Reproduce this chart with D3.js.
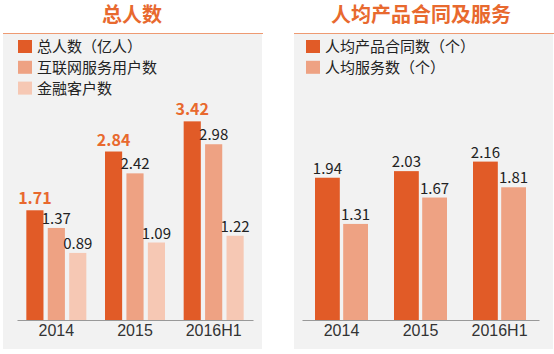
<!DOCTYPE html>
<html lang="zh">
<head>
<meta charset="UTF-8">
<title>总人数 / 人均产品合同及服务</title>
<script src="https://d3js.org/d3.v7.min.js"></script>
<style>
  body { margin: 0; background: #fff; font-family: "Noto Sans CJK SC", "Noto Sans", sans-serif; }
  .axis text { font-size: 16px; fill: #333; }
  .axis path { stroke: #999; }
</style>
</head>
<body>
<div id="chart"></div>
<script>
// data
const periods = ["2014", "2015", "2016H1"];

const leftTitle = "总人数";
const leftSeries = ["总人数（亿人）", "互联网服务用户数", "金融客户数"];
const totalUsers = [1.71, 2.84, 3.42];
const internetUsers = [1.37, 2.42, 2.98];
const financeUsers = [0.89, 1.09, 1.22];

const rightTitle = "人均产品合同及服务";
const rightSeries = ["人均产品合同数（个）", "人均服务数（个）"];
const contractsPerUser = [1.94, 2.03, 2.16];
const servicesPerUser = [1.31, 1.67, 1.81];

const colors = ["#E15B27", "#EEA283", "#F6C8B4"];
const accent = "#E8692E";

const W = 554, H = 354, base = 320;

const svg = d3.select("#chart").append("svg")
  .attr("width", W).attr("height", H);

function panel(opt) {
  const g = svg.append("g");

  // background + top rule
  g.append("rect")
    .attr("x", opt.x0).attr("y", 34)
    .attr("width", opt.x1 - opt.x0).attr("height", 315)
    .attr("fill", "#F2F2F2");
  g.append("line")
    .attr("x1", opt.x0).attr("x2", opt.x1 + 1)
    .attr("y1", 33.5).attr("y2", 33.5)
    .attr("stroke", "#EE9A72").attr("stroke-width", 1.2);

  g.append("text")
    .attr("x", opt.titleX).attr("y", 22)
    .attr("text-anchor", "middle")
    .attr("font-size", 20).attr("font-weight", "bold")
    .attr("fill", accent)
    .text(opt.title);

  // legend
  opt.names.forEach((n, i) => {
    const ly = 40 + i * 20.8;
    g.append("rect")
      .attr("x", opt.legX).attr("y", ly)
      .attr("width", 14).attr("height", 13)
      .attr("fill", colors[i]);
    g.append("text")
      .attr("x", opt.legX + 19).attr("y", ly + 12)
      .attr("font-size", 15).attr("fill", "#222")
      .text(n);
  });

  const x = d3.scaleBand().domain(periods).range(opt.range);
  const inner = d3.scaleBand()
    .domain(d3.range(opt.values.length))
    .range([-opt.groupW / 2, opt.groupW / 2])
    .paddingInner(opt.pad);

  opt.values.forEach((vals, si) => {
    const sg = g.append("g");
    sg.selectAll("rect")
      .data(vals)
      .join("rect")
      .attr("x", (d, i) => x(periods[i]) + x.bandwidth() / 2 + inner(si))
      .attr("width", inner.bandwidth())
      .attr("y", d => opt.y(d))
      .attr("height", d => base - opt.y(d))
      .attr("fill", colors[si]);

    const bold = opt.boldFirst && si === 0;
    sg.selectAll("text")
      .data(vals)
      .join("text")
      .attr("x", (d, i) => x(periods[i]) + x.bandwidth() / 2 + inner(si) + inner.bandwidth() / 2)
      .attr("y", d => opt.y(d) - (bold ? 6 : 4))
      .attr("text-anchor", "middle")
      .attr("font-size", bold ? 16 : 15)
      .attr("font-weight", bold ? "bold" : "normal")
      .attr("fill", bold ? accent : "#222")
      .text(d => d.toFixed(2));
  });

  g.append("g")
    .attr("class", "axis")
    .attr("transform", `translate(0,${base})`)
    .call(d3.axisBottom(x).tickSize(0).tickPadding(5))
    .call(a => a.select(".domain").attr("stroke", "#999"));
}

panel({
  x0: 3, x1: 262, titleX: 132, title: leftTitle, legX: 18,
  names: leftSeries,
  values: [totalUsers, internetUsers, financeUsers],
  range: [17, 253], groupW: 60, pad: 0.2, boldFirst: true,
  y: d3.scaleLinear().domain([-0.4, 3.6]).range([base, 112])
});

panel({
  x0: 294, x1: 553, titleX: 421, title: rightTitle, legX: 306,
  names: rightSeries,
  values: [contractsPerUser, servicesPerUser],
  range: [302, 539], groupW: 53, pad: 0.12, boldFirst: false,
  y: d3.scaleLinear().domain([0, 2.4]).range([base, 144])
});
</script>
</body>
</html>
